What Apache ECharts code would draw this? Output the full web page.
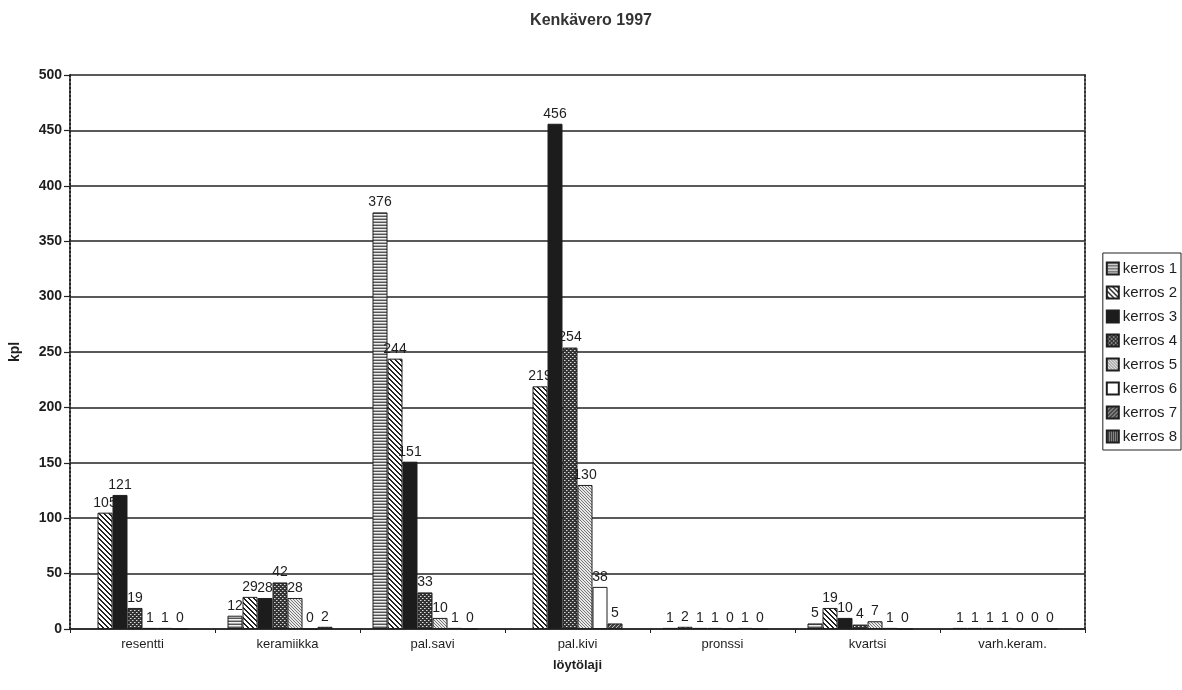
<!DOCTYPE html>
<html>
<head>
<meta charset="utf-8">
<script src="https://cdn.jsdelivr.net/npm/echarts@6/dist/echarts.min.js"></script>
<style>
html,body{margin:0;padding:0;background:#fff;}
#chart{width:1182px;height:690px;}
</style>
</head>
<body>
<div id="chart"></div>
<script>
var categories = ['resentti', 'keramiikka', 'pal.savi', 'pal.kivi', 'pronssi', 'kvartsi', 'varh.keram.'];
var seriesNames = ['kerros 1', 'kerros 2', 'kerros 3', 'kerros 4', 'kerros 5', 'kerros 6', 'kerros 7', 'kerros 8'];
var kerros1 = [null, 12, 376, null, 1, 5, 1];
var kerros2 = [105, 29, 244, 219, 2, 19, 1];
var kerros3 = [121, 28, 151, 456, 1, 10, 1];
var kerros4 = [19, 42, 33, 254, 1, 4, 1];
var kerros5 = [1, 28, 10, 130, 0, 7, 0];
var kerros6 = [1, 0, 1, 38, 1, 1, 0];
var kerros7 = [0, 2, 0, 5, 0, 0, 0];
var kerros8 = [null, null, null, null, null, null, null];
var allData = [kerros1, kerros2, kerros3, kerros4, kerros5, kerros6, kerros7, kerros8];

function makePattern(w, h, draw) {
  var c = document.createElement('canvas');
  c.width = w; c.height = h;
  var ctx = c.getContext('2d');
  draw(ctx, w, h);
  return { image: c, repeat: 'repeat' };
}
var patterns = [
  makePattern(2, 3, function (ctx, w, h) { ctx.fillStyle = '#f0f0f0'; ctx.fillRect(0, 0, w, h); ctx.fillStyle = '#555'; ctx.fillRect(0, 0, w, 1); ctx.fillStyle='#aaa'; ctx.fillRect(0,2,w,1); }),
  makePattern(5, 5, function (ctx, w, h) { ctx.fillStyle = '#fff'; ctx.fillRect(0, 0, w, h); ctx.fillStyle = '#222'; for (var i = 0; i < w; i++) { ctx.fillRect(i, i, 1, 1); ctx.fillRect((i + 1) % w, i, 1, 1); } }),
  '#1c1c1c',
  makePattern(4, 4, function (ctx, w, h) { ctx.fillStyle = '#333'; ctx.fillRect(0, 0, w, h); ctx.fillStyle = '#ddd'; ctx.fillRect(0, 0, 1, 1); ctx.fillRect(2, 2, 1, 1); ctx.fillStyle = '#888'; ctx.fillRect(1, 0, 1, 1); ctx.fillRect(3, 2, 1, 1); }),
  makePattern(3, 3, function (ctx, w, h) { ctx.fillStyle = '#e8e8e8'; ctx.fillRect(0, 0, w, h); ctx.fillStyle = '#777'; ctx.fillRect(0, 0, 1, 1); ctx.fillRect(1, 1, 1, 1); ctx.fillRect(2, 2, 1, 1); }),
  '#ffffff',
  makePattern(4, 4, function (ctx, w, h) { ctx.fillStyle = '#444'; ctx.fillRect(0, 0, w, h); ctx.fillStyle = '#bbb'; ctx.fillRect(3, 0, 1, 1); ctx.fillRect(2, 1, 1, 1); ctx.fillRect(1, 2, 1, 1); ctx.fillRect(0, 3, 1, 1); }),
  makePattern(4, 4, function (ctx, w, h) { ctx.fillStyle = '#333'; ctx.fillRect(0, 0, w, h); ctx.fillStyle = '#eee'; ctx.fillRect(0, 0, 1, 1); ctx.fillRect(2, 2, 1, 1); ctx.fillRect(2, 0, 1, 1); ctx.fillRect(0, 2, 1, 1); })
];

var textColor = '#1e1e1e';
var fontFam = '"Liberation Sans", Arial, sans-serif';

var series = seriesNames.map(function (name, i) {
  return {
    name: name,
    type: 'bar',
    data: allData[i],
    barWidth: 15,
    barGap: '0%',
    itemStyle: { color: patterns[i], borderColor: '#1e1e1e', borderWidth: 1 },
    label: { show: true, position: 'top', distance: 3, color: textColor, fontSize: 14, fontFamily: fontFam },
    emphasis: { disabled: true },
    animation: false
  };
});

var chart = echarts.init(document.getElementById('chart'), null, { renderer: 'canvas' });
chart.setOption({
  backgroundColor: '#fff',
  animation: false,
  title: {
    text: 'Kenkävero 1997', left: 'center', top: 8,
    textStyle: { fontSize: 16, fontWeight: 'bold', color: '#333', fontFamily: fontFam }
  },
  legend: {
    orient: 'vertical', right: 1, top: 253,
    data: seriesNames,
    itemWidth: 12, itemHeight: 12, itemGap: 9,
    padding: [8, 4, 6, 3],
    borderColor: '#222', borderWidth: 1, borderRadius: 0,
    backgroundColor: '#fff',
    icon: 'rect',
    textStyle: { fontSize: 15, color: textColor, fontFamily: fontFam, padding: [0, 0, 0, -1] },
    selectedMode: false
  },
  grid: { left: 68, right: 97, top: 75, bottom: 61, containLabel: false },
  xAxis: [{
    type: 'category',
    data: categories,
    name: 'löytölaji', nameLocation: 'middle', nameGap: 30,
    nameTextStyle: { fontSize: 13, fontWeight: 'bold', color: textColor, fontFamily: fontFam },
    axisLine: { lineStyle: { color: '#222', width: 2, type: 'dotted' } },
    axisTick: { show: true, length: 4, lineStyle: { color: '#222', width: 1 } },
    axisLabel: { fontSize: 13, color: textColor, margin: 9, fontFamily: fontFam },
    splitLine: { show: false }
  }, {
    type: 'category', position: 'top', data: categories,
    axisLine: { lineStyle: { color: '#333', width: 2, type: 'dotted' } },
    axisTick: { show: false }, axisLabel: { show: false }
  }],
  yAxis: [{
    type: 'value', min: 0, max: 500, interval: 50,
    name: 'kpl', nameLocation: 'middle', nameGap: 48, nameRotate: 90,
    nameTextStyle: { fontSize: 14, fontWeight: 'bold', color: textColor, fontFamily: fontFam },
    axisLine: { show: true, lineStyle: { color: '#222', width: 2, type: 'dotted' } },
    axisTick: { show: true, length: 6, lineStyle: { color: '#222', width: 1.2 } },
    axisLabel: { fontSize: 14, fontWeight: 'bold', color: textColor, margin: 8, fontFamily: fontFam },
    splitLine: { show: true, lineStyle: { color: '#222', width: 1.6 } }
  }, {
    type: 'value', position: 'right', min: 0, max: 500, interval: 50,
    axisLine: { show: true, lineStyle: { color: '#333', width: 2, type: 'dotted' } },
    axisTick: { show: false }, axisLabel: { show: false }, splitLine: { show: false }
  }],
  series: series
});
</script>
</body>
</html>
